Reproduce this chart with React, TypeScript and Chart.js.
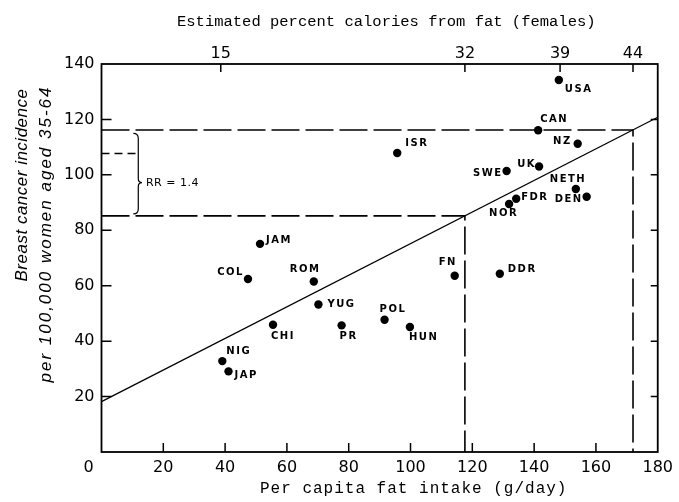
import React, { useEffect, useRef } from 'react';
import { Chart, registerables } from 'chart.js';

Chart.register(...registerables);

// ---- data ----
const countries = ['USA', 'CAN', 'NZ', 'UK', 'SWE', 'NETH', 'DEN', 'FDR', 'NOR', 'DDR', 'FN', 'ISR', 'JAM', 'COL', 'ROM', 'YUG', 'CHI', 'PR', 'POL', 'HUN', 'NIG', 'JAP'];
const fatIntake = [148.0, 141.3, 154.1, 141.6, 131.1, 153.5, 157.0, 134.2, 131.9, 128.9, 114.3, 95.7, 51.3, 47.4, 68.7, 70.2, 55.5, 77.7, 91.6, 99.8, 39.1, 41.1];
const incidence = [134.2, 116.1, 111.2, 103.0, 101.4, 94.9, 92.1, 91.4, 89.5, 64.3, 63.6, 107.9, 75.1, 62.4, 61.5, 53.2, 45.9, 45.7, 47.7, 45.1, 32.8, 29.1];

const xMin = 0, xMax = 180, xStep = 20;
const yMin = 0, yMax = 140, yStep = 20;
const topTickValues = [38.6, 117.6, 148.4, 172.0];
const topTickLabels = ['15', '32', '39', '44'];

const regressionX = [0, 180];
const regressionY = [18.2, 120.8];
const lowerRefX = [0, 117.6, 117.6];
const lowerRefY = [85.2, 85.2, 0];
const upperRefX = [0, 172.0, 172.0];
const upperRefY = [116.2, 116.2, 0];
const midRefX = [0, 12];
const midRefY = [107.7, 107.7];

const rrText = 'RR = 1.4';
const braceX = [10.3, 11.9, 13.1]; // hook, stem, tip
const braceY = [115.0, 97.2, 85.9]; // top, tip, bottom

const xTitle = 'Per capita fat intake (g/day)';
const topTitle = 'Estimated percent calories from fat (females)';
const yTitle1 = 'Breast cancer incidence';
const yTitle2 = 'per 100,000 women aged 35-64';

// ---- label placement (style only) ----
const labelPlacement: Record<string, [number, number, CanvasTextAlign]> = {
  USA: [6, 9, 'left'],
  CAN: [2, -11, 'left'],
  NZ: [-6, -2, 'right'],
  UK: [-3, -2, 'right'],
  SWE: [-4, 2, 'right'],
  NETH: [-26, -10, 'left'],
  DEN: [-4, 3, 'right'],
  FDR: [5, -1, 'left'],
  NOR: [-20, 9, 'left'],
  DDR: [8, -4, 'left'],
  FN: [-16, -13, 'left'],
  ISR: [8, -10, 'left'],
  JAM: [6, -3, 'left'],
  COL: [-4, -7, 'right'],
  ROM: [-24, -12, 'left'],
  YUG: [9, 0, 'left'],
  CHI: [-2, 12, 'left'],
  PR: [-2, 11, 'left'],
  POL: [-5, -10, 'left'],
  HUN: [-1, 10, 'left'],
  NIG: [4, -10, 'left'],
  JAP: [6, 4, 'left'],
};

const toXY = (xs: number[], ys: number[]) => xs.map((x, i) => ({ x, y: ys[i] }));

const decorPlugin = {
  id: 'decor',
  afterDatasetsDraw(chart: any) {
    const ctx: CanvasRenderingContext2D = chart.ctx;
    const { left, right, top, bottom } = chart.chartArea;
    const xs = chart.scales.x, ys = chart.scales.y, x2 = chart.scales.x2;
    ctx.save();
    ctx.strokeStyle = '#000';
    ctx.fillStyle = '#000';
    // frame
    ctx.lineWidth = 1.8;
    ctx.strokeRect(left, top, right - left, bottom - top);
    // inward tick marks
    ctx.lineWidth = 1.5;
    ctx.beginPath();
    for (let v = xMin + xStep; v < xMax; v += xStep) {
      const px = xs.getPixelForValue(v);
      ctx.moveTo(px, bottom);
      ctx.lineTo(px, bottom - 9);
    }
    for (let v = yMin + yStep; v < yMax; v += yStep) {
      const py = ys.getPixelForValue(v);
      ctx.moveTo(left, py);
      ctx.lineTo(left + 10, py);
      ctx.moveTo(right, py);
      ctx.lineTo(right - 7, py);
    }
    topTickValues.forEach((v) => {
      const px = x2.getPixelForValue(v);
      ctx.moveTo(px, top);
      ctx.lineTo(px, top + 8);
    });
    ctx.stroke();

    // brace
    const hx = xs.getPixelForValue(braceX[0]);
    const bx = xs.getPixelForValue(braceX[1]);
    const tx = xs.getPixelForValue(braceX[2]);
    const yT = ys.getPixelForValue(braceY[0]);
    const yM = ys.getPixelForValue(braceY[1]);
    const yB = ys.getPixelForValue(braceY[2]);
    ctx.lineWidth = 1.2;
    ctx.beginPath();
    ctx.moveTo(hx, yT);
    ctx.quadraticCurveTo(bx, yT, bx, yT + 5);
    ctx.lineTo(bx, yM - 4);
    ctx.quadraticCurveTo(bx, yM, tx, yM);
    ctx.quadraticCurveTo(bx, yM, bx, yM + 4);
    ctx.lineTo(bx, yB - 5);
    ctx.quadraticCurveTo(bx, yB, hx, yB);
    ctx.stroke();

    ctx.textBaseline = 'middle';
    ctx.font = '11px "DejaVu Sans"';
    (ctx as any).letterSpacing = '0.5px';
    ctx.textAlign = 'left';
    ctx.fillText(rrText, tx + 4, yM + 1);

    // country labels
    ctx.font = 'bold 10px "DejaVu Sans"';
    (ctx as any).letterSpacing = '1.5px';
    countries.forEach((c, i) => {
      const px = xs.getPixelForValue(fatIntake[i]);
      const py = ys.getPixelForValue(incidence[i]);
      const [dx, dy, al] = labelPlacement[c];
      ctx.textAlign = al;
      ctx.fillText(c, px + dx, py + dy);
    });

    // origin label
    (ctx as any).letterSpacing = '0px';
    ctx.font = '16px "DejaVu Sans"';
    ctx.textAlign = 'center';
    ctx.fillText('0', left - 13, bottom + 16);

    // axis titles
    ctx.font = '15.5px "Liberation Mono"';
    ctx.textAlign = 'left';
    ctx.fillText(topTitle, 177, 22);
    ctx.font = '16px "Liberation Mono"';
    (ctx as any).letterSpacing = '1px';
    ctx.fillText(xTitle, 260, 489);

    ctx.textAlign = 'center';
    ctx.font = 'italic 17px "Liberation Sans"';
    ctx.save();
    ctx.translate(22, 185);
    ctx.rotate(-Math.PI / 2);
    (ctx as any).letterSpacing = '0.5px';
    ctx.fillText(yTitle1, 0, 0);
    ctx.restore();
    ctx.save();
    ctx.translate(46, 234);
    ctx.rotate(-Math.PI / 2);
    (ctx as any).letterSpacing = '2px';
    ctx.fillText(yTitle2, 0, 0);
    ctx.restore();

    ctx.restore();
  },
};

export default function App() {
  const ref = useRef<HTMLCanvasElement>(null);
  useEffect(() => {
    const tickFont = { family: 'DejaVu Sans', size: 16 };
    const chart = new Chart(ref.current as HTMLCanvasElement, {
      type: 'scatter',
      data: {
        datasets: [
          {
            data: toXY(fatIntake, incidence),
            pointRadius: 4.2,
            pointBackgroundColor: '#000',
            pointBorderWidth: 0,
            showLine: false,
          },
          {
            data: toXY(regressionX, regressionY),
            showLine: true,
            pointRadius: 0,
            borderColor: '#000',
            borderWidth: 1.3,
          },
          {
            data: toXY(lowerRefX, lowerRefY),
            showLine: true,
            pointRadius: 0,
            borderColor: '#000',
            borderWidth: 1.6,
            borderDash: [28, 6],
          },
          {
            data: toXY(upperRefX, upperRefY),
            showLine: true,
            pointRadius: 0,
            borderColor: '#000',
            borderWidth: 1.6,
            borderDash: [28, 6],
          },
          {
            data: toXY(midRefX, midRefY),
            showLine: true,
            pointRadius: 0,
            borderColor: '#000',
            borderWidth: 1.3,
            borderDash: [8, 5],
          },
        ],
      } as any,
      options: {
        animation: false,
        responsive: false,
        events: [],
        layout: { padding: { left: 0, right: 20, top: 0, bottom: 0 } },
        plugins: { legend: { display: false }, tooltip: { enabled: false } },
        scales: {
          x: {
            type: 'linear',
            position: 'bottom',
            min: xMin,
            max: xMax,
            grid: { display: false, drawTicks: false },
            border: { display: false },
            ticks: {
              stepSize: xStep,
              padding: 6,
              color: '#000',
              font: tickFont,
              maxRotation: 0,
              autoSkip: false,
              callback: (v: any) => (v === 0 ? '' : String(v)),
            },
            afterFit: (s: any) => { s.height = 50; },
          },
          x2: {
            type: 'linear',
            position: 'top',
            min: xMin,
            max: xMax,
            grid: { display: false, drawTicks: false },
            border: { display: false },
            afterBuildTicks: (s: any) => { s.ticks = topTickValues.map((value) => ({ value })); },
            ticks: {
              padding: 1,
              color: '#000',
              font: tickFont,
              maxRotation: 0,
              autoSkip: false,
              callback: (_v: any, i: number) => topTickLabels[i],
            },
            afterFit: (s: any) => { s.height = 64; },
          },
          y: {
            type: 'linear',
            position: 'left',
            min: yMin,
            max: yMax,
            grid: { display: false, drawTicks: false },
            border: { display: false },
            ticks: {
              stepSize: yStep,
              padding: 7,
              color: '#000',
              font: tickFont,
              callback: (v: any) => (v === 0 ? '' : String(v)),
            },
            afterFit: (s: any) => { s.width = 101.5; },
          },
        },
      } as any,
      plugins: [decorPlugin],
    });
    return () => chart.destroy();
  }, []);
  return (
    <div style={{ position: 'fixed', left: 0, top: 0, width: 679, height: 502, background: '#fff' }}>
      <canvas ref={ref} width={679} height={502} style={{ display: 'block' }} />
    </div>
  );
}
